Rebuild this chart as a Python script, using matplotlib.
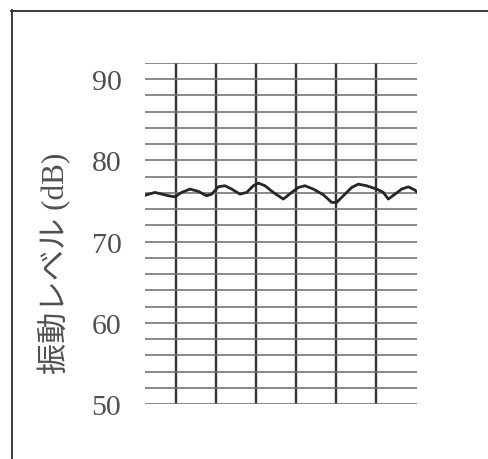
import matplotlib
matplotlib.use("Agg")
import matplotlib.pyplot as plt
from matplotlib.lines import Line2D

# vibration level record (time in chart divisions, level in dB)
time_div = [-0.775, -0.733, -0.525, -0.358, -0.192, -0.025, 0.142, 0.35, 0.558, 0.767,
            0.892, 1.058, 1.225, 1.392, 1.6, 1.767, 1.933, 2.058, 2.225, 2.433,
            2.683, 2.892, 3.058, 3.225, 3.433, 3.683, 3.892, 4.017, 4.183, 4.392,
            4.558, 4.767, 5.017, 5.183, 5.308, 5.475, 5.642, 5.808, 5.975, 6.025]
level_db = [75.7, 75.77, 76.06, 75.85, 75.65, 75.52, 76.06, 76.47, 76.19, 75.65,
            75.85, 76.75, 76.88, 76.47, 75.85, 76.06, 76.88, 77.21, 76.88, 76.06,
            75.24, 76.06, 76.67, 76.88, 76.47, 75.77, 74.83, 74.83, 75.65, 76.67,
            77.08, 76.88, 76.47, 76.06, 75.24, 75.85, 76.47, 76.75, 76.35, 76.1]

y_major = [50, 60, 70, 80, 90]
y_labels = ["50", "60", "70", "80", "90"]
y_minor = list(range(50, 93, 2))
x_divisions = [0, 1, 2, 3, 4, 5]
ylabel = "振動レベル (dB)"

W, H = 488, 460
fig = plt.figure(figsize=(W / 100, H / 100), dpi=100)
fig.patch.set_facecolor("white")

left, right, top, bottom = 145, 417, 64, 405
ax = fig.add_axes([left / W, 1 - bottom / H, (right - left) / W, (bottom - top) / H])

ax.set_xlim(-0.775, 6.025)
ax.set_ylim(50, 92)

ax.set_yticks(y_major)
ax.set_yticklabels(y_labels)
ax.set_yticks(y_minor, minor=True)
ax.set_xticks(x_divisions)
ax.set_xticklabels([])

for s in ax.spines.values():
    s.set_visible(False)

ax.tick_params(axis="both", which="both", length=0)
ax.tick_params(axis="y", which="major", pad=17, labelsize=21.5, labelcolor="#505050")
for lbl in ax.get_yticklabels():
    lbl.set_family(["Liberation Serif", "DejaVu Serif"])

ax.grid(axis="y", which="both", color="#767676", linewidth=1.2)
ax.grid(axis="x", which="major", color="#333333", linewidth=1.7)
ax.set_axisbelow(True)

ax.plot(time_div, level_db, color="#262626", linewidth=2.0, solid_joinstyle="round",
        solid_capstyle="round")

fig.text(55 / W, 1 - 263 / H, ylabel, rotation=90, ha="center", va="center",
         fontsize=22.5, color="#505050",
         family=["Liberation Serif", "Noto Sans CJK JP"])

# open frame along the top and left edges
fig.add_artist(Line2D([11 / W, 1.0], [1 - 11.5 / H, 1 - 11.5 / H],
                      transform=fig.transFigure, color="#3a3a3a", linewidth=1.4))
fig.add_artist(Line2D([11.5 / W, 11.5 / W], [0.0, 1 - 11 / H],
                      transform=fig.transFigure, color="#3a3a3a", linewidth=1.4))

fig.savefig("out.png", dpi=100, facecolor="white")
